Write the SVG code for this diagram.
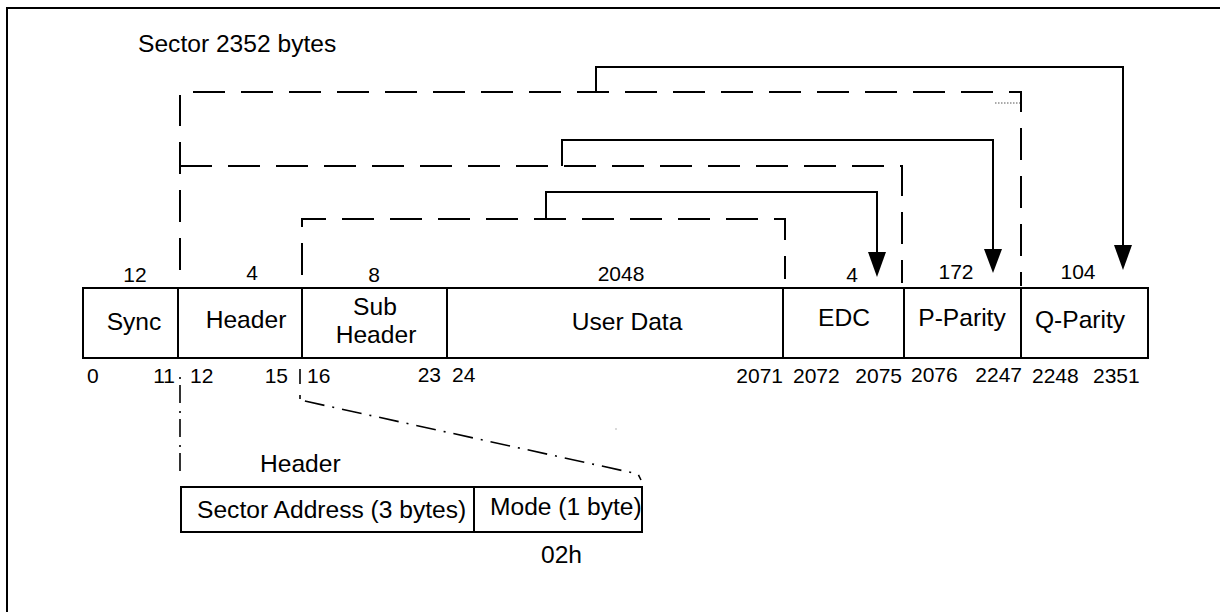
<svg xmlns="http://www.w3.org/2000/svg" width="1220" height="612" viewBox="0 0 1220 612">
<defs>
<style>
.t{font-family:"Liberation Sans",Arial,sans-serif;font-size:24.6px;fill:#000}
.n{font-family:"Liberation Sans",Arial,sans-serif;font-size:21px;fill:#000}
.c{text-anchor:middle}
.e{text-anchor:end}
.box{fill:#fff;stroke:#000;stroke-width:2}
.div{stroke:#000;stroke-width:2}
.dash{fill:none;stroke:#000;stroke-width:2;stroke-dasharray:32 16}
.solid{fill:none;stroke:#000;stroke-width:2}
.dd{fill:none;stroke:#000;stroke-width:1.6;stroke-dasharray:2 6 18 8}
.head{fill:#000}
</style>
</defs>
<rect x="7" y="8" width="1240" height="640" fill="#fff" stroke="#000" stroke-width="2"/>
<text class="t" x="138" y="52">Sector 2352 bytes</text>

<g id="connectors">
<path class="dash" d="M180,270 V95"/>
<path class="dash" d="M193,92 H1021 V286"/>
<path class="dash" d="M180,166 H902 V283"/>
<path class="dash" d="M302,275 V219 H785 V279"/>
<path d="M995,103 H1020" fill="none" stroke="#555" stroke-width="1" stroke-dasharray="1.5 1.5"/>
<path class="solid" d="M596,92 V67 H1123 V250"/>
<path class="head" d="M1114,245 L1132,245 L1123,270 Z"/>
<path class="solid" d="M562,166 V140 H993 V254"/>
<path class="head" d="M984,249 L1002,249 L993,273 Z"/>
<path class="solid" d="M546,218 V192 H877 V257"/>
<path class="head" d="M868,252 L886,252 L877,277 Z"/>
<path class="dd" d="M180,377 V472"/>
<path d="M300,369 V384" fill="none" stroke="#000" stroke-width="1.6"/>
<path class="dd" d="M300,395 V400 L638,474 L641,480" style="stroke-dasharray:4 6 20 8 2 8 20 8 2 8 20 8 2 8 20 8 2 8 20 8 2 8 20 8 2 8 20 8 2 8 20 8 2 8 20 8 2 8 20 8"/>
<circle cx="616" cy="429" r="0.8" fill="#aaa"/>
</g>

<g id="sector">
<rect class="box" x="83" y="288" width="1065" height="70"/>
<line class="div" x1="178" y1="288" x2="178" y2="358"/>
<line class="div" x1="302" y1="288" x2="302" y2="358"/>
<line class="div" x1="447" y1="288" x2="447" y2="358"/>
<line class="div" x1="783" y1="288" x2="783" y2="358"/>
<line class="div" x1="904" y1="288" x2="904" y2="358"/>
<line class="div" x1="1021" y1="288" x2="1021" y2="358"/>
</g>
<g id="sync">
<text class="n c" x="135" y="282">12</text>
<text class="t c" x="134" y="330">Sync</text>
</g>
<g id="header">
<text class="n c" x="252" y="280">4</text>
<text class="t c" x="246" y="328">Header</text>
</g>
<g id="subheader">
<text class="n c" x="374" y="282">8</text>
<text class="t c" x="375" y="315">Sub</text>
<text class="t c" x="376" y="343">Header</text>
</g>
<g id="userdata">
<text class="n c" x="621" y="281">2048</text>
<text class="t c" x="627" y="330">User Data</text>
</g>
<g id="edc">
<text class="n c" x="852" y="282">4</text>
<text class="t c" x="844" y="326">EDC</text>
</g>
<g id="pparity">
<text class="n c" x="956" y="279">172</text>
<text class="t c" x="962" y="326">P-Parity</text>
</g>
<g id="qparity">
<text class="n c" x="1078" y="279">104</text>
<text class="t c" x="1080" y="328">Q-Parity</text>
</g>

<g id="offsets">
<text class="n" x="87" y="383">0</text>
<text class="n e" x="175" y="383">11</text>
<text class="n" x="190" y="383">12</text>
<text class="n e" x="288" y="383">15</text>
<text class="n" x="307" y="383">16</text>
<text class="n e" x="441" y="382">23</text>
<text class="n" x="452" y="382">24</text>
<text class="n e" x="783" y="383">2071</text>
<text class="n" x="793" y="383">2072</text>
<text class="n e" x="902" y="383">2075</text>
<text class="n" x="911" y="382">2076</text>
<text class="n e" x="1022" y="382">2247</text>
<text class="n" x="1032" y="383">2248</text>
<text class="n" x="1093" y="383">2351</text>
</g>

<g id="header-detail">
<text class="t" x="260" y="472">Header</text>
<rect class="box" x="181" y="487" width="461" height="45"/>
<line class="div" x1="474" y1="487" x2="474" y2="532"/>
<text class="t" x="197" y="518">Sector Address (3 bytes)</text>
<text class="t" x="490" y="515">Mode (1 byte)</text>
<text class="t" x="541" y="563">02h</text>
</g>
</svg>
